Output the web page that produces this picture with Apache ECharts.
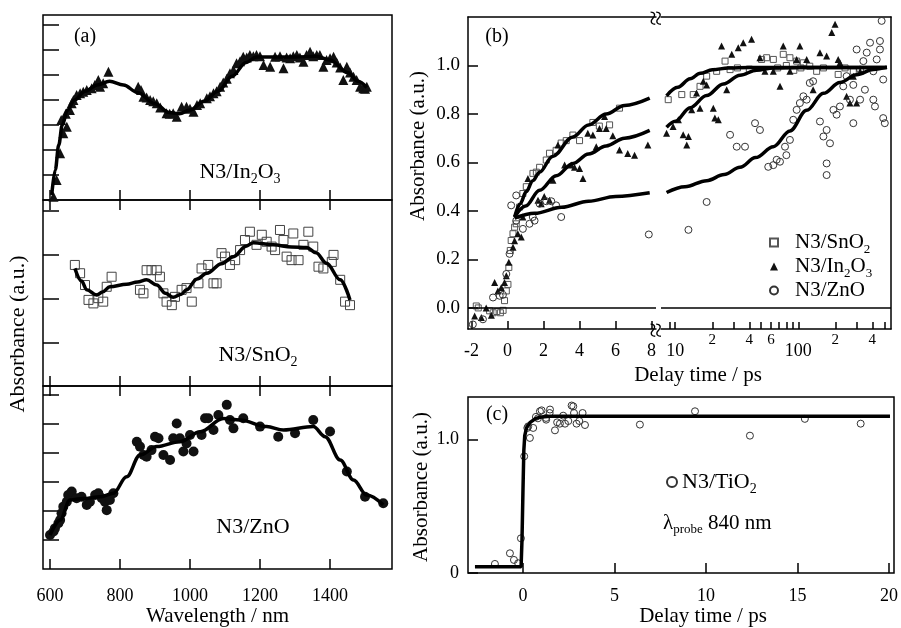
<!DOCTYPE html>
<html><head><meta charset="utf-8">
<script src="https://cdn.jsdelivr.net/npm/echarts@6/dist/echarts.min.js"></script>
<style>html,body{margin:0;padding:0;background:#fff}#c{width:901px;height:628px}</style>
</head><body><div id="c"></div>
<script>
// ---------- Panel (a): steady-state spectra (arbitrary units) ----------
const wlTicks = [600, 800, 1000, 1200, 1400];
const in2o3Pts = [[610,0.13],[619,0.8],[629,1.87],[632,3.2],[638,2.67],[645,3.45],[648,2.93],[657,3.6],[662,3.87],[667,4.0],[676,4.2],[686,4.27],[695,4.33],[705,4.4],[719,4.47],[728,4.6],[738,4.8],[743,4.53],[752,4.67],[767,5.13],[852,4.53],[860,4.4],[867,4.13],[876,4.1],[886,4.0],[895,3.95],[905,3.87],[915,3.7],[933,3.47],[942,3.45],[952,3.47],[962,3.33],[976,3.73],[990,3.73],[1000,3.65],[1010,3.53],[1020,3.8],[1029,3.87],[1048,4.07],[1057,4.15],[1067,4.27],[1076,4.35],[1086,4.53],[1095,4.7],[1105,4.85],[1114,5.07],[1124,5.2],[1133,5.47],[1143,5.55],[1152,5.73],[1162,5.7],[1171,5.8],[1181,5.75],[1190,5.8],[1200,5.75],[1210,5.4],[1229,5.33],[1243,5.73],[1257,5.75],[1267,5.27],[1276,5.7],[1286,5.67],[1295,5.75],[1305,5.8],[1314,5.7],[1324,5.53],[1333,5.8],[1343,5.93],[1352,5.75],[1362,5.8],[1371,5.8],[1381,5.33],[1390,5.6],[1400,5.67],[1410,5.73],[1419,5.5],[1429,5.3],[1438,4.8],[1448,5.33],[1457,5.1],[1467,4.93],[1476,4.8],[1486,4.53],[1495,4.47],[1500,4.45],[1505,4.53]];
const in2o3Fit = [[605,0.2],[615,1.2],[625,2.2],[635,3.0],[650,3.6],[670,4.0],[700,4.35],[735,4.6],[770,4.75],[810,4.6],[850,4.3],[900,3.85],[940,3.5],[970,3.45],[1000,3.6],[1040,3.95],[1080,4.35],[1120,4.95],[1160,5.5],[1190,5.72],[1250,5.72],[1300,5.72],[1360,5.75],[1400,5.6],[1450,5.1],[1480,4.75],[1505,4.5]];
const sno2Pts = [[671,2.77],[686,2.58],[700,2.31],[710,1.97],[724,1.89],[738,2.01],[752,1.93],[762,2.27],[776,2.5],[857,2.2],[867,2.12],[876,2.65],[890,2.65],[905,2.65],[914,2.5],[924,2.12],[933,1.93],[948,1.85],[957,2.04],[976,2.2],[990,2.24],[1005,1.93],[1024,2.35],[1033,2.69],[1052,2.77],[1067,2.35],[1076,2.35],[1090,3.04],[1100,2.96],[1114,2.77],[1129,2.88],[1143,3.11],[1157,3.34],[1171,3.53],[1190,3.23],[1205,3.46],[1219,3.3],[1233,3.19],[1243,3.11],[1257,3.57],[1267,3.34],[1276,2.96],[1290,2.88],[1295,3.49],[1310,2.88],[1324,3.23],[1338,3.53],[1352,3.19],[1367,2.73],[1381,2.69],[1405,2.84],[1410,3.0],[1429,2.43],[1443,1.93],[1457,1.85]];
const sno2Fit = [[671,2.69],[690,2.4],[705,2.2],[733,2.08],[750,2.15],[771,2.27],[819,2.33],[850,2.38],[876,2.43],[905,2.31],[930,2.12],[952,2.03],[975,2.1],[990,2.2],[1020,2.45],[1048,2.58],[1090,2.8],[1124,2.96],[1160,3.2],[1181,3.28],[1238,3.23],[1290,3.18],[1333,3.17],[1360,3.05],[1390,2.81],[1429,2.43],[1457,1.97]];
const znoPts = [[600,1.17],[610,1.29],[614,1.4],[624,1.58],[629,1.69],[633,1.92],[638,2.15],[648,2.32],[652,2.55],[662,2.67],[676,2.44],[690,2.49],[705,2.21],[714,2.32],[729,2.55],[738,2.61],[748,2.44],[757,2.32],[762,2.03],[771,2.38],[781,2.61],[848,4.39],[857,4.22],[867,3.93],[876,3.87],[890,4.1],[900,4.56],[910,4.51],[924,3.93],[943,3.76],[952,4.51],[962,5.02],[971,4.51],[981,4.05],[990,4.33],[1000,4.62],[1010,4.05],[1033,4.62],[1043,5.2],[1052,5.2],[1067,4.79],[1081,5.31],[1105,5.66],[1114,5.14],[1124,4.85],[1152,5.2],[1200,4.91],[1252,4.56],[1300,4.68],[1352,5.14],[1400,4.74],[1448,3.36],[1500,2.49],[1552,2.27]];
const znoFit = [[600,1.17],[629,1.69],[657,2.38],[695,2.43],[743,2.49],[781,2.61],[819,3.18],[857,3.93],[905,4.22],[971,4.39],[1029,4.73],[1095,5.19],[1143,5.14],[1219,4.91],[1267,4.79],[1352,4.91],[1386,4.56],[1429,3.76],[1467,3.07],[1505,2.55],[1552,2.21]];

// ---------- Panel (b): transient kinetics ----------
const bLinTicks = [-2, 0, 2, 4, 6, 8];
const bLogTicks = [9, 10, 20, 30, 40, 50, 60, 70, 80, 90, 100, 200, 300, 400, 500];
const bLogMajorLabels = [10, 100];
const bLogMinorLabels = [20, 40, 60, 200, 400];
const bYTicks = [0, 0.2, 0.4, 0.6, 0.8, 1.0];
const bSnO2Lin = [[-1.74,0.008],[-1.63,0.0],[-1.0,-0.012],[-0.8,-0.02],[-0.6,-0.015],[-0.4,-0.02],[-0.25,-0.01],[-0.17,0.03],[-0.07,0.07],[0.02,0.097],[0.07,0.167],[0.15,0.237],[0.2,0.278],[0.3,0.306],[0.39,0.333],[0.48,0.347],[0.67,0.416],[0.85,0.472],[1.04,0.5],[1.41,0.555],[1.6,0.56],[1.78,0.58],[2.15,0.61],[2.33,0.638],[2.7,0.65],[2.98,0.68],[3.26,0.69],[3.63,0.713],[4.0,0.69],[4.74,0.765],[5.1,0.75],[5.67,0.755],[6.22,0.824]];
const bIn2O3Lin = [[-1.83,-0.033],[-1.46,-0.04],[-1.19,0.0],[-0.9,-0.03],[-0.72,0.105],[-0.54,0.07],[-0.35,0.084],[-0.17,0.105],[-0.07,0.133],[0.07,0.188],[0.3,0.25],[0.39,0.277],[0.57,0.306],[0.76,0.292],[0.85,0.375],[1.13,0.534],[1.69,0.444],[1.87,0.43],[2.04,0.46],[2.33,0.444],[2.52,0.527],[2.8,0.672],[3.17,0.589],[3.54,0.589],[3.72,0.58],[4.0,0.575],[4.19,0.534],[4.46,0.72],[4.74,0.713],[4.93,0.665],[5.11,0.74],[5.39,0.79],[5.48,0.74],[5.85,0.71],[6.22,0.651],[6.68,0.637],[7.06,0.63],[7.8,0.672]];
const bZnOLin = [[-1.93,-0.068],[-1.37,-0.047],[-0.81,0.043],[-0.44,0.05],[-0.26,0.054],[-0.07,0.14],[0.11,0.223],[0.2,0.423],[0.48,0.36],[0.48,0.464],[0.85,0.326],[1.22,0.347],[1.4,0.375],[1.5,0.36],[1.78,0.43],[2.15,0.44],[2.43,0.44],[2.7,0.423],[2.98,0.375],[7.85,0.303]];
const bSnO2Log = [[8.77,0.859],[11.3,0.88],[14.0,0.88],[15.9,0.914],[18.0,0.956],[21.7,0.976],[25.4,1.018],[27.9,0.983],[32,0.99],[40,0.985],[50.3,1.025],[55.3,1.032],[62.7,1.025],[68,0.99],[75.5,1.046],[80,1.0],[85.5,1.032],[92,0.98],[97,1.018],[105,0.99],[110,1.011],[124,0.997],[141,0.976],[160,0.99],[211,0.963],[240,0.99],[280,0.976]];
const bIn2O3Log = [[8.5,0.72],[9.6,0.748],[10.6,0.776],[11.6,0.714],[12.8,0.707],[12.4,0.672],[13.6,0.817],[15.9,0.824],[14.9,0.887],[16.9,0.935],[18,0.92],[20.4,0.824],[21.0,0.783],[22.4,0.776],[23.8,1.08],[26.2,0.9],[28.8,1.046],[32.5,1.073],[35.7,1.094],[41.7,1.108],[48.8,1.032],[53.6,0.976],[62.7,0.976],[71,0.914],[75.5,1.08],[85.5,0.976],[97,1.025],[103,1.08],[117,1.025],[132,0.9],[150,1.053],[170,1.039],[187,1.136],[199,1.17],[211,1.025],[218,1.011],[247,0.873],[263,0.845],[298,0.845],[280,0.956],[318,0.976]];
const bZnOLog = [[12.8,0.322],[18,0.437],[27.9,0.714],[31.6,0.665],[36.9,0.665],[44.5,0.762],[48.8,0.734],[57,0.582],[62.7,0.589],[66.7,0.611],[71,0.603],[78,0.665],[80,0.63],[85.5,0.693],[91,0.776],[97,0.817],[103,0.845],[110,0.873],[117,0.859],[124,0.928],[132,0.935],[150,0.769],[160,0.707],[170,0.734],[181,0.679],[170,0.596],[170,0.548],[193,0.817],[205,0.797],[218,0.831],[232,0.914],[247,0.956],[263,0.859],[280,0.92],[298,1.066],[318,0.983],[338,1.018],[360,1.053],[383,1.094],[407,0.976],[434,1.025],[461,1.066],[490,0.942],[407,0.859],[420,0.831],[490,0.783],[505,0.762],[476,1.184],[461,1.101],[280,0.762],[318,0.859],[348,0.9]];
const bFitSnO2Lin = [[0.39,0.375],[0.7,0.43],[1.04,0.48],[1.4,0.525],[1.78,0.56],[2.5,0.625],[3.63,0.705],[4.5,0.755],[5.48,0.8],[6.5,0.835],[7.9,0.865]];
const bFitIn2O3Lin = [[0.39,0.375],[1.0,0.42],[1.78,0.485],[2.7,0.545],[3.63,0.596],[4.5,0.635],[5.48,0.668],[6.5,0.7],[7.9,0.732]];
const bFitZnOLin = [[0.39,0.37],[1.5,0.39],[3,0.415],[4.5,0.44],[6,0.46],[7.9,0.475]];
const bFitSnO2Log = [[8.5,0.875],[10.5,0.91],[13.2,0.945],[16,0.968],[20,0.982],[27,0.99],[40,0.992],[100,0.992],[525,0.992]];
const bFitIn2O3Log = [[8.5,0.745],[10,0.77],[13.2,0.826],[18,0.876],[24.6,0.924],[33.6,0.96],[45.8,0.98],[62.7,0.99],[100,0.992],[525,0.992]];
const bFitZnOLog = [[8.5,0.476],[12,0.5],[18,0.525],[25,0.55],[33.6,0.58],[45,0.62],[62.7,0.665],[85.5,0.73],[117,0.815],[160,0.885],[218,0.93],[298,0.962],[407,0.983],[525,0.993]];

// ---------- Panel (c): N3/TiO2 ----------
const cXTicks = [0, 5, 10, 15, 20];
const cYTicks = [0, 1];
const cTiO2Pts = [[-1.53,0.068],[-0.71,0.148],[-0.49,0.098],[-0.26,0.073],[-0.11,0.26],[0.07,0.875],[0.24,1.088],[0.29,1.1],[0.38,1.013],[0.56,1.088],[0.71,1.171],[0.82,1.16],[0.93,1.213],[1.02,1.22],[1.26,1.163],[1.27,1.15],[1.46,1.2],[1.48,1.226],[1.75,1.07],[1.87,1.13],[2.02,1.12],[2.2,1.18],[2.3,1.12],[2.48,1.14],[2.66,1.256],[2.75,1.25],[2.79,1.2],[2.93,1.12],[3.08,1.14],[3.26,1.2],[3.39,1.11],[6.39,1.113],[9.4,1.213],[12.4,1.03],[15.4,1.156],[18.45,1.12]];
const cTiO2Fit = [[-2.62,0.047],[-0.1,0.047],[-0.05,0.25],[0,0.6],[0.05,0.92],[0.1,1.03],[0.2,1.09],[0.4,1.13],[0.7,1.16],[1.0,1.17],[1.5,1.175],[20.05,1.175]];

// ---------- styles ----------
const FONT = "'Liberation Serif','Times New Roman',Times,serif";
const BLK = '#000';
const LINE = {show: true, onZero: false, lineStyle: {color: BLK, width: 1.5}};
const NOLINE = {show: false, onZero: false};
function ticks(vals, len) { return {show: true, inside: true, length: len, customValues: vals, lineStyle: {color: BLK, width: 1.5}}; }
function labs(vals, fs, margin, fmt) {
  return {show: true, customValues: vals, fontSize: fs, fontFamily: FONT, color: BLK, margin: margin,
    formatter: fmt || (v => String(v))};
}
function ax(o) {
  return Object.assign({type: 'value', splitLine: {show: false}, axisLine: NOLINE, axisTick: {show: false}, axisLabel: {show: false}}, o);
}
function richSet(fs, color) {
  const sf = Math.round(fs * 0.62);
  return {
    m: {fontSize: fs, fontFamily: FONT, lineHeight: fs, verticalAlign: 'top', color: color, fill: color},
    s: {fontSize: sf, fontFamily: FONT, lineHeight: sf, padding: [Math.round(fs * 0.5), 0, 0, 0], verticalAlign: 'top', color: color, fill: color}
  };
}
function gText(x, y, text, fs, opts) {
  const st = Object.assign({text: text, fontSize: fs, fontFamily: FONT, fill: BLK,
    align: 'center', verticalAlign: 'middle', textAlign: 'center', textVerticalAlign: 'middle'}, opts || {});
  return {type: 'text', x: x, y: y, z: 50, style: st};
}
function gRich(x, y, text, fs, align) {
  return {type: 'text', x: x, y: y, z: 50, style: {text: text, rich: richSet(fs, BLK), fill: BLK,
    align: align || 'center', verticalAlign: 'middle', textAlign: align || 'center', textVerticalAlign: 'middle'}};
}
function scatter(name, data, xi, yi, symbol, size, filled, color) {
  return {type: 'scatter', name: name, data: data, xAxisIndex: xi, yAxisIndex: yi, symbol: symbol, symbolSize: size, z: 2,
    itemStyle: filled ? {color: color, borderWidth: 0, opacity: 1} : {color: 'rgba(255,255,255,0)', borderColor: color, borderWidth: 1, opacity: 1}};
}
function fit(name, data, xi, yi, w) {
  return {type: 'line', name: name, data: data, xAxisIndex: xi, yAxisIndex: yi, showSymbol: false, symbol: 'none',
    smooth: 0.35, smoothMonotone: 'x', z: 4, lineStyle: {color: BLK, width: w || 3.5}, silent: true};
}
const zeroLine = {silent: true, symbol: ['none', 'none'], label: {show: false}, lineStyle: {color: BLK, width: 1.5, type: 'solid'}, data: [{yAxis: 0}]};

const legendNames = {
  'N3/SnO2': '{m|N3/SnO}{s|2}',
  'N3/In2O3': '{m|N3/In}{s|2}{m|O}{s|3}',
  'N3/ZnO': '{m|N3/ZnO}',
  'N3/TiO2': '{m|N3/TiO}{s|2}'
};

const chart = echarts.init(document.getElementById('c'), null, {renderer: 'canvas'});
const gridBase = {show: true, borderColor: BLK, borderWidth: 1.5, backgroundColor: 'transparent', containLabel: false, outerBoundsMode: 'none'};
const option = {
  animation: false,
  backgroundColor: '#fff',
  grid: [
    Object.assign({}, gridBase, {left: 43, top: 15, width: 349, height: 185}),
    Object.assign({}, gridBase, {left: 43, top: 200, width: 349, height: 186}),
    Object.assign({}, gridBase, {left: 43, top: 386, width: 349, height: 183}),
    {show: false, left: 468, top: 17, width: 188, height: 312, containLabel: false, outerBoundsMode: 'none'},
    {show: false, left: 661, top: 17, width: 230, height: 312, containLabel: false, outerBoundsMode: 'none'},
    Object.assign({}, gridBase, {left: 468, top: 397, width: 426, height: 176})
  ],
  xAxis: [
    ax({gridIndex: 0, position: 'bottom', min: 580, max: 1577, axisTick: ticks(wlTicks, 10)}),
    ax({gridIndex: 1, position: 'bottom', min: 580, max: 1577, axisTick: ticks(wlTicks, 10)}),
    ax({gridIndex: 2, position: 'bottom', min: 580, max: 1577, axisTick: ticks(wlTicks, 10), axisLabel: labs(wlTicks, 18, 18),
        name: 'Wavelength / nm', nameLocation: 'middle', nameGap: 37, nameTextStyle: {fontSize: 21, fontFamily: FONT, color: BLK}}),
    ax({gridIndex: 1, position: 'top', min: 580, max: 1577, axisTick: ticks(wlTicks, 10)}),
    ax({gridIndex: 2, position: 'top', min: 580, max: 1577, axisTick: ticks(wlTicks, 10)}),
    ax({gridIndex: 3, position: 'bottom', min: -2.2, max: 8.25, axisLine: LINE, axisTick: ticks(bLinTicks, 8), axisLabel: labs(bLinTicks, 18, 13)}),
    ax({gridIndex: 3, position: 'top', min: -2.2, max: 8.25, axisLine: LINE}),
    ax({type: 'log', logBase: 10, gridIndex: 4, position: 'bottom', min: 7.66, max: 567, axisLine: LINE, axisTick: ticks(bLogTicks, 7),
        axisLabel: labs(bLogMajorLabels, 18, 13, v => String(Math.round(v)))}),
    ax({type: 'log', logBase: 10, gridIndex: 4, position: 'bottom', min: 7.66, max: 567,
        axisLabel: labs(bLogMinorLabels, 15, 4, v => String(Math.round(v)).charAt(0))}),
    ax({type: 'log', logBase: 10, gridIndex: 4, position: 'top', min: 7.66, max: 567, axisLine: LINE}),
    ax({gridIndex: 5, position: 'bottom', min: -3, max: 20.27, axisTick: ticks(cXTicks, 10), axisLabel: labs(cXTicks, 18, 14)})
  ],
  yAxis: [
    ax({gridIndex: 0, position: 'left', min: 0, max: 7.4, axisTick: ticks([1, 2, 3, 4, 5, 6, 7], 16)}),
    ax({gridIndex: 1, position: 'left', min: 0, max: 4.256, axisTick: ticks([1, 2, 3, 4], 16)}),
    ax({gridIndex: 2, position: 'left', min: 0, max: 6.31, axisTick: ticks([1, 2, 3, 4, 5, 6], 16)}),
    ax({gridIndex: 3, position: 'left', min: -0.087, max: 1.2, axisLine: LINE, axisTick: ticks(bYTicks, 10),
        axisLabel: labs(bYTicks, 19, 8, v => v.toFixed(1))}),
    ax({gridIndex: 4, position: 'right', min: -0.087, max: 1.2, axisLine: LINE}),
    ax({gridIndex: 5, position: 'left', min: 0, max: 1.32, axisTick: ticks(cYTicks, 10),
        axisLabel: labs(cYTicks, 18, 9, v => (v === 0 ? '0' : v.toFixed(1)))})
  ],
  legend: [
    {data: ['N3/SnO2', 'N3/In2O3', 'N3/ZnO'], left: 764, top: 227, orient: 'vertical', itemGap: 0, itemWidth: 8, itemHeight: 8,
      selectedMode: false, formatter: n => legendNames[n], textStyle: {rich: richSet(21, BLK), padding: [0, 0, 0, 12]}},
    {data: ['N3/TiO2'], left: 661, top: 466, orient: 'vertical', itemWidth: 10, itemHeight: 10, selectedMode: false,
      formatter: n => legendNames[n], textStyle: {rich: richSet(22, BLK), padding: [0, 0, 0, 0]}}
  ],
  graphic: [
    gText(85, 37, '(a)', 20),
    gText(497, 37, '(b)', 20),
    gText(497, 415, '(c)', 20),
    gRich(240, 172, '{m|N3/In}{s|2}{m|O}{s|3}', 22),
    gRich(258, 355, '{m|N3/SnO}{s|2}', 22),
    gText(253, 527, 'N3/ZnO', 22),
    gRich(663, 523, '{m|λ}{s|probe}{m| 840 nm}', 21, 'left'),
    Object.assign(gText(18, 334, 'Absorbance (a.u.)', 22), {rotation: Math.PI / 2}),
    Object.assign(gText(418, 146, 'Absorbance (a.u.)', 21), {rotation: Math.PI / 2}),
    Object.assign(gText(421, 487, 'Absorbance (a.u.)', 21), {rotation: Math.PI / 2}),
    gText(698, 375, 'Delay time / ps', 21),
    gText(703, 616, 'Delay time / ps', 21),
    Object.assign(gText(658, 18, '≈', 28), {rotation: Math.PI / 2}),
    Object.assign(gText(658, 330, '≈', 28), {rotation: Math.PI / 2})
  ],
  series: [
    scatter('a-In2O3', in2o3Pts, 0, 0, 'triangle', 10, true, '#111'),
    fit('fit-a1', in2o3Fit, 0, 0, 3.5),
    scatter('a-SnO2', sno2Pts, 1, 1, 'rect', 9, false, '#444'),
    fit('fit-a2', sno2Fit, 1, 1, 3.5),
    scatter('a-ZnO', znoPts, 2, 2, 'circle', 10, true, '#111'),
    fit('fit-a3', znoFit, 2, 2, 3.5),

    Object.assign(scatter('N3/SnO2', bSnO2Lin, 5, 3, 'rect', 6, false, '#555'), {markLine: zeroLine}),
    scatter('N3/In2O3', bIn2O3Lin, 5, 3, 'triangle', 7, true, '#111'),
    scatter('N3/ZnO', bZnOLin, 5, 3, 'circle', 7, false, '#333'),
    fit('fit-bl1', bFitSnO2Lin, 5, 3, 3.5),
    fit('fit-bl2', bFitIn2O3Lin, 5, 3, 3.5),
    fit('fit-bl3', bFitZnOLin, 5, 3, 3.5),

    Object.assign(scatter('N3/SnO2', bSnO2Log, 7, 4, 'rect', 6, false, '#555'), {markLine: zeroLine}),
    scatter('N3/In2O3', bIn2O3Log, 7, 4, 'triangle', 7, true, '#111'),
    scatter('N3/ZnO', bZnOLog, 7, 4, 'circle', 7, false, '#333'),
    fit('fit-br1', bFitSnO2Log, 7, 4, 3.5),
    fit('fit-br2', bFitIn2O3Log, 7, 4, 3.5),
    fit('fit-br3', bFitZnOLog, 7, 4, 3.5),

    scatter('N3/TiO2', cTiO2Pts, 10, 5, 'circle', 7, false, '#333'),
    Object.assign(fit('fit-c', cTiO2Fit, 10, 5, 3.5), {smooth: false})
  ]
};
chart.setOption(option);
</script>
</body></html>
